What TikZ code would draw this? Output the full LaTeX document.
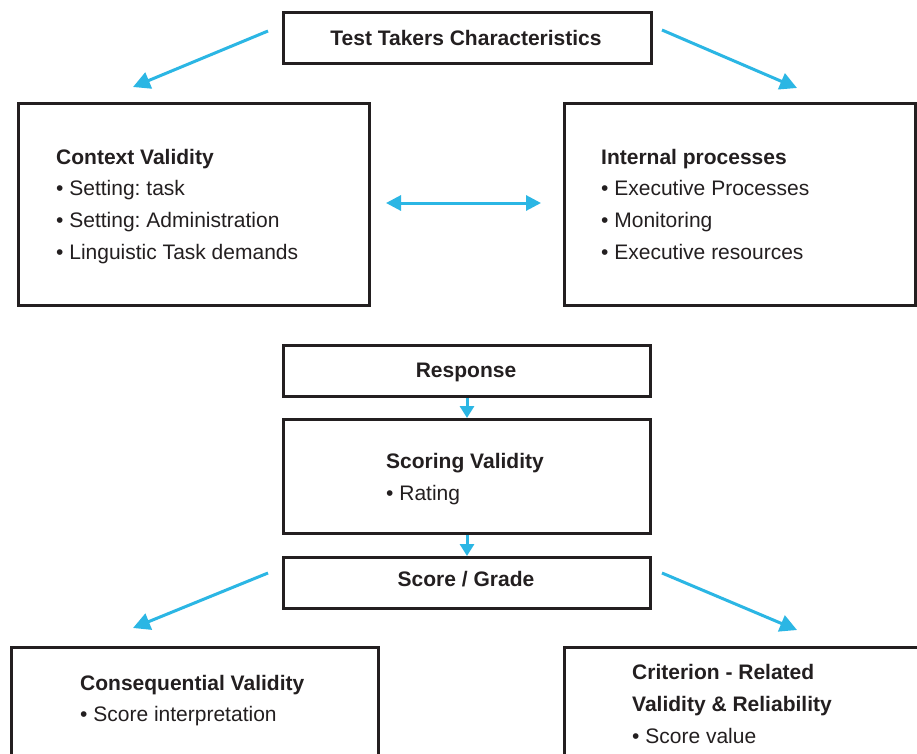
\documentclass[tikz,border=0pt]{standalone}
\usepackage{fontspec}
\setmainfont{Liberation Sans}
\usetikzlibrary{arrows.meta}
\definecolor{boxline}{HTML}{231F20}
\definecolor{arrowc}{HTML}{2BB6E4}
\frenchspacing
\begin{document}
\begin{tikzpicture}[x=1pt,y=-1pt,
  box/.style={draw=boxline,line width=3pt,rectangle,inner sep=0pt,anchor=north west},
  txt/.style={inner sep=0pt,anchor=base west,text=boxline,font=\fontsize{21}{25}\selectfont},
  btxt/.style={txt,font=\fontsize{21}{25}\selectfont\bfseries},
  ctxt/.style={inner sep=0pt,anchor=base,text=boxline,font=\fontsize{21}{25}\selectfont\bfseries},
  arr/.style={color=arrowc,line width=3pt,-{Triangle[length=17pt,width=17pt,fill=arrowc]}},
  darr/.style={color=arrowc,line width=3pt,{Triangle[length=15pt,width=15pt,fill=arrowc]}-{Triangle[length=15pt,width=15pt,fill=arrowc]}},
  sarr/.style={color=arrowc,line width=3pt,-{Triangle[length=12pt,width=14pt,fill=arrowc]}}]
\useasboundingbox (0,0) rectangle (917,753);
\clip (0,0) rectangle (917,753);
\fill[white] (0,0) rectangle (917,753);
% boxes
\node[box,minimum width=368pt,minimum height=51pt] (top) at (282,11) {};
\node[box,minimum width=351pt,minimum height=202pt] (ctx) at (17,102) {};
\node[box,minimum width=351pt,minimum height=202pt] (int) at (563,102) {};
\node[box,minimum width=367pt,minimum height=51pt] (resp) at (282,344) {};
\node[box,minimum width=367pt,minimum height=114pt] (scor) at (282,418) {};
\node[box,minimum width=367pt,minimum height=51pt] (grade) at (282,556) {};
\node[box,minimum width=367pt,minimum height=140pt] (cons) at (10,646) {};
\node[box,minimum width=400pt,minimum height=140pt] (crit) at (563,646) {};
% texts
\node[ctxt] (ttop) at (466,45) {Test Takers Characteristics};
\node[btxt] (tctx) at (56,164) {Context Validity};
\node[txt] (tctx1) at (56,195) {• Setting: task};
\node[txt] (tctx2) at (56,227) {• Setting: Administration};
\node[txt] (tctx3) at (56,259) {• Linguistic Task demands};
\node[btxt] (tint) at (601,164) {Internal processes};
\node[txt] (tint1) at (601,195) {• Executive Processes};
\node[txt] (tint2) at (601,227) {• Monitoring};
\node[txt] (tint3) at (601,259) {• Executive resources};
\node[ctxt] (tresp) at (466,377) {Response};
\node[btxt] (tscor) at (386,468) {Scoring Validity};
\node[txt] (tscor1) at (386,500) {• Rating};
\node[ctxt] (tgrade) at (466,586) {Score / Grade};
\node[btxt] (tcons) at (80,690) {Consequential Validity};
\node[txt] (tcons1) at (80,721) {• Score interpretation};
\node[btxt] (tcrit) at (632,679) {Criterion - Related};
\node[btxt] (tcrit2) at (632,711) {Validity \& Reliability};
\node[txt] (tcrit3) at (632,743) {• Score value};
% arrow end points
\coordinate (a1s) at (268,31);
\coordinate (a1e) at (133,87);
\coordinate (a2s) at (662,30);
\coordinate (a2e) at (797,88);
\coordinate (a3s) at (386,203);
\coordinate (a3e) at (541,203);
\coordinate (a4s) at (268,573);
\coordinate (a4e) at (133,628);
\coordinate (a5s) at (662,573);
\coordinate (a5e) at (797,630);
\draw[arr] (a1s) -- (a1e);
\draw[arr] (a2s) -- (a2e);
\draw[darr] (a3s) -- (a3e);
\draw[arr] (a4s) -- (a4e);
\draw[arr] (a5s) -- (a5e);
\draw[sarr] (resp.south) -- (scor.north);
\draw[sarr] (scor.south) -- (grade.north);
\end{tikzpicture}
\end{document}
